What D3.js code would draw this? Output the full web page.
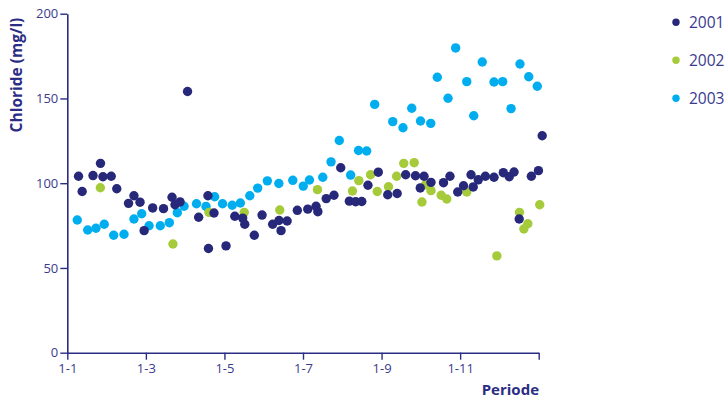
<!DOCTYPE html>
<html><head><meta charset="utf-8">
<script src="https://cdn.jsdelivr.net/npm/d3@7"></script>
<style>
html,body{margin:0;padding:0;background:#fff;}
svg{display:block;font-family:"Open Sans","Noto Sans",sans-serif;}
</style></head>
<body><svg id="chart" width="727" height="399"></svg>
<script>
// x values: day of year (0 = 1 January); y values: chloride in mg/l
const days2001 = [8.7,11.5,19.9,25.7,27.6,34.0,38.3,47.4,51.6,56.3,59.5,66.1,74.5,81.1,83.4,87.3,93.1,101.7,108.9,109.3,113.6,122.9,129.7,135.8,137.4,144.8,150.8,159.0,163.9,165.5,170.2,178.1,186.2,192.6,194.0,200.5,206.5,211.7,218.4,223.3,228.0,232.8,240.8,248.1,255.4,262.0,269.6,273.3,276.2,281.6,291.3,296.3,302.3,306.8,312.6,314.3,318.2,323.7,330.4,337.6,342.2,345.9,349.9,359.3,364.8,367.7];
const values2001 = [104.1,95.1,104.5,111.7,103.8,104.1,96.7,88.1,92.6,88.8,72.0,85.4,85.0,91.7,87.3,89.0,154.1,79.9,92.6,61.5,82.4,63.0,80.5,79.4,75.8,69.3,81.2,75.8,78.0,72.0,77.7,84.0,84.7,86.4,83.2,90.9,92.9,109.1,89.4,89.1,89.2,98.8,106.5,93.2,93.9,105.0,104.4,97.2,104.1,100.5,100.3,104.1,94.8,98.5,105.0,97.8,102.0,104.1,103.5,106.2,103.8,106.6,78.9,104.1,107.4,128.0];

const days2002 = [25.6,81.8,109.7,137.0,164.5,193.7,220.8,225.7,234.8,240.0,248.7,255.0,260.5,268.6,274.6,277.4,281.6,289.5,293.8,309.3,332.6,350.1,353.5,356.6,365.8];
const values2002 = [97.3,64.1,82.8,82.8,84.2,96.2,95.4,101.5,105.0,95.1,97.9,104.1,111.7,112.1,88.9,99.1,95.6,92.9,90.7,94.8,57.1,82.8,73.0,76.1,87.3];

const days2003 = [7.7,15.8,22.2,28.6,35.9,43.9,51.6,57.6,63.3,72.0,79.0,85.2,90.4,100.0,107.4,114.1,120.2,127.7,134.0,141.3,147.4,154.9,163.8,174.6,182.7,187.5,197.8,204.2,210.6,219.4,225.5,231.8,238.0,252.0,259.9,266.7,273.5,281.4,286.5,294.8,300.7,309.3,314.7,321.3,330.4,337.1,343.6,350.5,357.3,363.9];
const values2003 = [78.3,72.4,73.4,75.8,69.3,69.9,78.9,82.0,74.9,74.9,76.7,82.6,86.4,87.9,86.3,92.0,87.9,87.0,88.3,92.6,97.1,101.4,99.8,101.7,98.3,101.9,103.5,112.6,125.2,104.8,119.3,119.0,146.5,136.3,132.7,144.2,136.7,135.3,162.5,150.1,179.8,159.9,139.8,171.5,159.7,159.9,144.0,170.3,162.8,157.2];

const seriesNames = ["2001","2002","2003"];
const seriesColors = ["#28287a","#a6cb3a","#00aeef"];
const yTicks = [0,50,100,150,200];
const xTickMonths = [0,2,4,6,8,10,12];
const xTickLabels = ["1-1","1-3","1-5","1-7","1-9","1-11",""];
const yTitle = "Chloride (mg/l)";
const xTitle = "Periode";

const navy = "#2b2d84";
const svg = d3.select("#chart");
const x = d3.scaleLinear().domain([0,365]).range([67.3,538.7]);
const y = d3.scaleLinear().domain([0,200]).range([352.7,13.7]);

const series = [
  {name:seriesNames[0], color:seriesColors[0], pts:days2001.map((d,i)=>[d,values2001[i]])},
  {name:seriesNames[1], color:seriesColors[1], pts:days2002.map((d,i)=>[d,values2002[i]])},
  {name:seriesNames[2], color:seriesColors[2], pts:days2003.map((d,i)=>[d,values2003[i]])}
];

// axes
const yAxis = d3.axisLeft(y).tickValues(yTicks).tickSize(7).tickPadding(2).tickSizeOuter(0);
const gy = svg.append("g").attr("transform",`translate(${x(0)},0)`).call(yAxis);
const xAxis = d3.axisBottom(x).tickValues(xTickMonths.map(m=>m*365/12))
  .tickFormat((d,i)=>xTickLabels[i]).tickSize(7).tickPadding(4).tickSizeOuter(0);
const gx = svg.append("g").attr("transform",`translate(0,${y(0)})`).call(xAxis);
[gx,gy].forEach(g=>{
  g.select(".domain").attr("stroke",navy).attr("stroke-width",1.6);
  g.selectAll(".tick line").attr("stroke",navy).attr("stroke-width",1.4);
  g.selectAll(".tick text").attr("fill","#3a3a8e").attr("font-size",13)
    .attr("font-family","'Open Sans','Noto Sans',sans-serif");
});

// points (draw 2003, then 2002, then 2001 on top)
[series[2],series[1],series[0]].forEach(s=>{
  svg.append("g").selectAll("circle").data(s.pts).join("circle")
    .attr("cx",d=>x(d[0])).attr("cy",d=>y(d[1])).attr("r",4.7).attr("fill",s.color);
});

// titles
svg.append("text").attr("transform","translate(22,75) rotate(-90)")
  .attr("text-anchor","middle").attr("font-weight","bold").attr("font-size",15.5)
  .attr("fill",navy).text(yTitle);
svg.append("text").attr("x",539).attr("y",394.5).attr("text-anchor","end")
  .attr("font-weight","bold").attr("font-size",15).attr("fill",navy).text(xTitle);

// legend
const lg = svg.append("g");
series.forEach((s,i)=>{
  const cy = 22.3 + i*38;
  lg.append("circle").attr("cx",676).attr("cy",cy).attr("r",3.7).attr("fill",s.color);
  lg.append("text").attr("x",689).attr("y",cy+5.5).attr("font-size",15.5)
    .attr("fill","#3a3a8e").text(s.name);
});
</script></body></html>
